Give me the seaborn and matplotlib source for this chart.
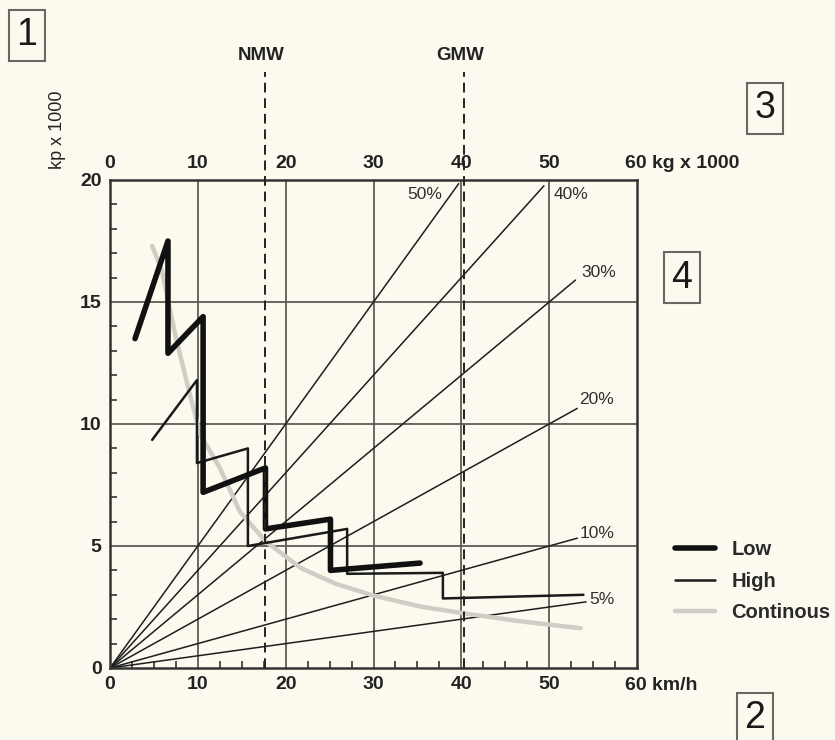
import matplotlib
matplotlib.use("Agg")
import matplotlib.pyplot as plt
import seaborn as sns
import numpy as np
import pandas as pd
from matplotlib.lines import Line2D

sns.set_theme(style="white")
plt.rcParams['font.family'] = ['Liberation Sans', 'DejaVu Sans']

BG = "#fcf9ee"

# ---- data ----
low_x = [2.85, 6.6, 6.6, 10.6, 10.6, 17.7, 17.7, 25.1, 25.1, 35.3]
low_y = [13.5, 17.5, 12.9, 14.4, 7.2, 8.2, 5.7, 6.1, 4.0, 4.3]

high_x = [4.8, 9.9, 9.9, 15.7, 15.7, 27.0, 27.0, 37.9, 37.9, 53.9]
high_y = [9.35, 11.8, 8.4, 9.0, 5.0, 5.7, 3.86, 3.9, 2.85, 3.0]

cont_x = [4.8, 5.9, 7.4, 9.1, 10.3, 12.5, 14.8, 17.7, 21.7, 25.7, 30.0, 35.3, 40.3, 46.8, 53.6]
cont_y = [17.3, 16.3, 13.7, 11.2, 9.55, 8.2, 6.4, 5.2, 4.1, 3.45, 2.97, 2.52, 2.24, 1.91, 1.63]

grades = [50, 40, 30, 20, 10, 5]            # percent
grade_end_x = [39.7, 49.4, 53.0, 53.2, 53.2, 54.2]
grade_labels = ["50%", "40%", "30%", "20%", "10%", "5%"]
grade_label_x = [35.8, 52.5, 55.6, 55.4, 55.4, 56.0]
grade_label_y = [19.4, 19.4, 16.2, 11.0, 5.5, 2.8]

markers_x = [17.6, 40.3]
markers_lbl = ["NMW", "GMW"]

x_ticks = [0, 10, 20, 30, 40, 50]
y_ticks = [0, 5, 10, 15, 20]

# ---- figure ----
fig = plt.figure(figsize=(8.35, 7.4), dpi=100, facecolor=BG)
ax = fig.add_axes([110/835, 1-668/740, 527/835, 488/740])
ax.set_facecolor(BG)
ax.set_xlim(0, 60)
ax.set_ylim(0, 20)

grid_c = "#5e5b55"
for gx in [10, 20, 30, 40, 50]:
    ax.axvline(gx, color=grid_c, lw=1.3, zorder=1)
for gy in [5, 10, 15]:
    ax.axhline(gy, color=grid_c, lw=1.3, zorder=1)

# grade rays
rows = []
for g, ex in zip(grades, grade_end_x):
    rows.append({"g": g, "x": 0.0, "y": 0.0})
    rows.append({"g": g, "x": ex, "y": g / 100 * ex})
rays = pd.DataFrame(rows)
for g in grades:
    sub = rays[rays.g == g]
    sns.lineplot(data=sub, x="x", y="y", ax=ax, color="#1e1e1e", lw=1.1,
                 sort=False, estimator=None, zorder=2, legend=False)
for lbl, lx, ly in zip(grade_labels, grade_label_x, grade_label_y):
    ax.text(lx, ly, lbl, fontsize=12.5, color="#2e2e2e", ha="center", va="center")

# series
df_low = pd.DataFrame({"x": low_x, "y": low_y})
df_high = pd.DataFrame({"x": high_x, "y": high_y})
df_cont = pd.DataFrame({"x": cont_x, "y": cont_y})
sns.lineplot(data=df_cont, x="x", y="y", ax=ax, color="#cfcdc4", lw=3.2,
             sort=False, estimator=None, zorder=3)
sns.lineplot(data=df_high, x="x", y="y", ax=ax, color="#1a1a1a", lw=1.8,
             sort=False, estimator=None, zorder=4)
sns.lineplot(data=df_low, x="x", y="y", ax=ax, color="#111111", lw=4.0,
             sort=False, estimator=None, zorder=5)

# dashed markers
for mx, ml in zip(markers_x, markers_lbl):
    ax.axvline(mx, ymin=0, ymax=1 + 108/488, color="#222222", lw=1.4,
               linestyle=(0, (5, 3)), clip_on=False, zorder=6)
    ax.text(mx - 0.4, 1 + 125/488, ml, transform=ax.get_xaxis_transform(),
            fontsize=13.5, fontweight="bold", color="#222222", ha="center", va="center")

# axes styling
for s in ax.spines.values():
    s.set_color("#333333")
    s.set_linewidth(1.8)
ax.set_xticks(x_ticks)
ax.set_yticks(y_ticks)
ax.set_xticklabels([str(v) for v in x_ticks])
ax.set_yticklabels([str(v) for v in y_ticks])
ax.set_xticks(np.arange(0, 60, 2.5), minor=True)
ax.set_yticks(np.arange(0, 20, 1), minor=True)
ax.tick_params(axis="both", which="major", length=0, labelsize=14, pad=6,
               labelcolor="#222222")
ax.tick_params(axis="both", which="minor", direction="in", length=5, width=1.2,
               color="#333333")
ax.tick_params(axis="x", which="minor", bottom=True, top=False)
ax.tick_params(axis="y", which="minor", left=True, right=False)
for t in ax.get_xticklabels() + ax.get_yticklabels():
    t.set_fontweight("bold")
ax.set_xlabel("")
ax.set_ylabel("")
ax.text(58.6, -18/488, "60 km/h", transform=ax.get_xaxis_transform(),
        fontsize=14, fontweight="bold", color="#222222", ha="left", va="center", clip_on=False)

sec = ax.secondary_xaxis("top")
sec.set_xticks(x_ticks)
sec.set_xticklabels([str(v) for v in x_ticks])
sec.tick_params(length=0, labelsize=14, pad=6, labelcolor="#222222")
for t in sec.get_xticklabels():
    t.set_fontweight("bold")
sec.spines["top"].set_visible(False)
ax.text(58.6, 1 + 16/488, "60 kg x 1000", transform=ax.get_xaxis_transform(),
        fontsize=14, fontweight="bold", color="#222222", ha="left", va="center", clip_on=False)

fig.text(57/835, 1 - 130/740, "kp x 1000", rotation=90, fontsize=13,
         color="#222222", ha="center", va="center")

# legend
handles = [Line2D([], [], color="#111111", lw=4.0),
           Line2D([], [], color="#1a1a1a", lw=1.8),
           Line2D([], [], color="#cfcdc4", lw=3.2)]
leg = fig.legend(handles, ["Low", "High", "Continous"], loc="upper left",
                 bbox_to_anchor=(657/835, 1 - 522/740), frameon=False,
                 handlelength=2.0, handletextpad=0.8, labelspacing=0.62,
                 prop={"size": 14.5, "weight": "bold"})
for t in leg.get_texts():
    t.set_color("#2a2a2a")

# boxed numbers
for txt, cx, cy in [("1", 27, 35), ("2", 755, 718), ("3", 765, 108), ("4", 682, 278)]:
    fig.text(cx/835, 1 - cy/740, txt, fontsize=27, color="#1a1a1a", ha="center", va="center",
             bbox=dict(boxstyle="square,pad=0.2", fc=BG, ec="#6a6862", lw=1.5))

fig.savefig("out.png", dpi=100, facecolor=BG)
